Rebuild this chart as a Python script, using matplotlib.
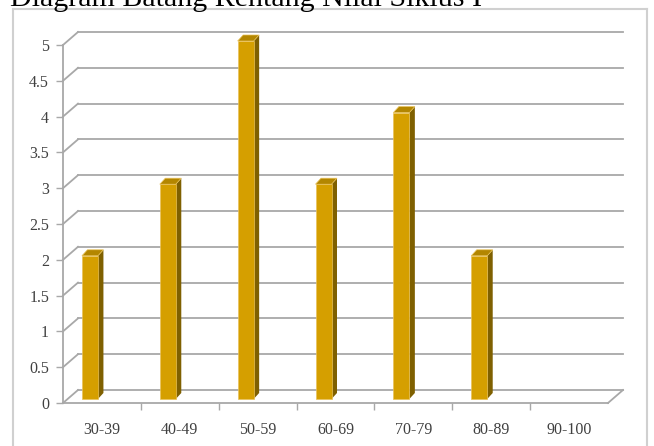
import matplotlib
matplotlib.use("Agg")
import matplotlib.pyplot as plt
from matplotlib.patches import Polygon
from matplotlib.lines import Line2D

# Jumlah siswa per rentang nilai (Siklus I)
categories = ["30-39", "40-49", "50-59", "60-69", "70-79", "80-89", "90-100"]
counts = [2, 3, 5, 3, 4, 2, 0]
y_ticks = [0, 0.5, 1, 1.5, 2, 2.5, 3, 3.5, 4, 4.5, 5]
title = "Diagram Batang Rentang Nilai Siklus I"

W, H = 654, 446
fig = plt.figure(figsize=(W / 100, H / 100), dpi=100)
fig.patch.set_facecolor("white")

# axes box = front edge of the pseudo-3D plot area
x0, x1 = 63, 608
y0, y1 = 403, 45
ax = fig.add_axes([x0 / W, (H - y0) / H, (x1 - x0) / W, (y0 - y1) / H])
ax.set_xlim(-0.5, len(categories) - 0.5)
ax.set_ylim(0, 5)
ax.patch.set_alpha(0)
for s in ax.spines.values():
    s.set_visible(False)

px_x = (len(categories)) / (x1 - x0)  # data units per pixel
px_y = 5 / (y0 - y1)

# depth offset of the back wall
dx, dy = 15 * px_x, 13 * px_y
grid_col = "#a8a8a8"
xl, xr = -0.5, len(categories) - 0.5

for y in y_ticks:
    ax.plot([xl, xl + dx], [y, y + dy], color=grid_col, lw=1.3, clip_on=False, zorder=1)
    ax.plot([xl + dx, xr + dx], [y + dy, y + dy], color=grid_col, lw=1.3,
            clip_on=False, zorder=1)
# floor: front edge and right side
ax.plot([xl, xr], [0, 0], color=grid_col, lw=1.3, clip_on=False, zorder=1)
ax.plot([xr, xr + dx], [0, dy], color=grid_col, lw=1.3, clip_on=False, zorder=1)
# vertical axis line
ax.plot([xl, xl], [0, 5], color=grid_col, lw=1.3, clip_on=False, zorder=1)

# bars: front face + side + top
front_c, side_c, top_c = "#d59f00", "#7f6000", "#b38600"
bw = 16 * px_x
shift = -12 * px_x
lift = 4 * px_y
sdx, sdy = 5.5 * px_x, 6 * px_y
xs = [i + shift for i in range(len(categories))]

bars = ax.bar(xs, counts, width=bw, bottom=lift, color=front_c,
              edgecolor=["#e9c25a" if v else "none" for v in counts],
              linewidth=0.5, zorder=3)
for b in bars:
    b.set_clip_on(False)
for xc, v in zip(xs, counts):
    if v == 0:
        continue
    l, r = xc - bw / 2, xc + bw / 2
    top = lift + v
    ax.add_patch(Polygon([(r, lift), (r + sdx, lift + sdy), (r + sdx, top + sdy), (r, top)],
                         closed=True, facecolor=side_c, edgecolor="none", zorder=2,
                         clip_on=False))
    ax.add_patch(Polygon([(l, top), (r, top), (r + sdx, top + sdy), (l + sdx, top + sdy)],
                         closed=True, facecolor=top_c, edgecolor="#e9c25a", lw=0.5,
                         zorder=4, clip_on=False))

# ticks and labels
tick_font = dict(family="Liberation Serif", size=11.5, color="#404040")
ax.set_yticks(y_ticks)
ax.set_yticklabels([f"{t:g}" for t in y_ticks], fontdict=tick_font)
ax.tick_params(axis="y", length=5, width=1, color=grid_col, pad=5)
ax.set_xticks(range(len(categories)))
ax.set_xticklabels(categories, fontdict=tick_font)
ax.set_xticks([i + 0.5 for i in range(len(categories) - 1)], minor=True)
ax.tick_params(axis="x", which="major", length=0, pad=14)
ax.tick_params(axis="x", which="minor", length=5, width=1, color=grid_col)

# chart frame (bottom edge runs off the page)
fx0, fx1, fy0 = 13 / W, 647 / W, 1 - 9 / H
frame_kw = dict(color="#d0d0d0", lw=1.5, transform=fig.transFigure)
fig.add_artist(Line2D([fx0, fx0], [0, fy0], **frame_kw))
fig.add_artist(Line2D([fx0, fx1], [fy0, fy0], **frame_kw))
fig.add_artist(Line2D([fx1, fx1], [fy0, 0], **frame_kw))

fig.text(10 / W, 1 - 5.5 / H, title, family="Liberation Serif", size=21.6,
         color="black", ha="left", va="baseline")

fig.savefig("out.png", dpi=100)
